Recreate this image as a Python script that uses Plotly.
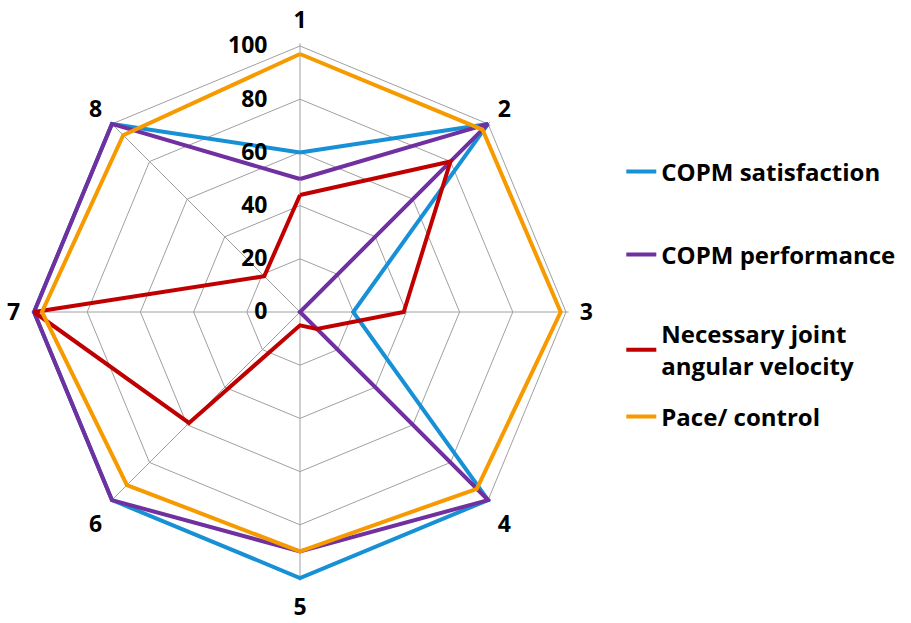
import plotly.graph_objects as go

# Eight assessed items around the radar
categories = ["1", "2", "3", "4", "5", "6", "7", "8"]

# Scores (0-100) per item
copm_satisfaction = [60, 100, 20, 100, 100, 100, 100, 100]
copm_performance = [50, 100, 0, 100, 90, 100, 100, 100]
joint_velocity = [44, 80, 39, 9, 5, 59, 100, 19]
pace_control = [97, 97, 98, 94, 90, 92, 97, 94]

radial_ticks = [0, 20, 40, 60, 80, 100]
r_max = 101  # small headroom so lines on the 100 ring are not clipped

series = [
    ("COPM satisfaction", copm_satisfaction, "#1790d6"),
    ("COPM performance", copm_performance, "#7030a0"),
    ("Necessary joint<br>angular velocity", joint_velocity, "#c00000"),
    ("Pace/ control", pace_control, "#f79a00"),
]

FONT = "Open Sans"
W, H = 911, 623
cx, cy, R100 = 300, 312, 266
R = R100 * r_max / 100

# one legend box per entry so the vertical spacing can be set freely
legend_names = ["legend", "legend2", "legend3", "legend4"]
legend_centers = [172, 255, 350, 417]

fig = go.Figure()
for i, (name, vals, color) in enumerate(series):
    fig.add_trace(go.Scatterpolar(
        r=vals + vals[:1],
        theta=categories + categories[:1],
        mode="lines",
        name=name,
        legend=legend_names[i],
        line=dict(color=color, width=4),
    ))

legend_style = dict(
    x=0.682,
    xanchor="left",
    yanchor="middle",
    font=dict(size=24, family=FONT, weight="bold", color="black"),
    bgcolor="rgba(0,0,0,0)",
)

layout_legends = {
    ln: dict(legend_style, y=1 - yc / H)
    for ln, yc in zip(legend_names, legend_centers)
}

fig.update_layout(
    width=W,
    height=H,
    margin=dict(l=0, r=0, t=0, b=0),
    paper_bgcolor="white",
    plot_bgcolor="white",
    font=dict(family=FONT, color="black"),
    polar=dict(
        domain=dict(x=[(cx - R) / W, (cx + R) / W],
                    y=[(H - cy - R) / H, (H - cy + R) / H]),
        bgcolor="white",
        gridshape="linear",
        radialaxis=dict(
            range=[0, r_max],
            tickvals=radial_ticks,
            ticktext=[str(v) for v in radial_ticks],
            angle=90,
            tickangle=90,
            side="counterclockwise",
            showline=False,
            ticks="outside",
            ticklen=24,
            tickcolor="rgba(0,0,0,0)",
            gridcolor="#a0a0a0",
            gridwidth=1,
            tickfont=dict(size=23, family=FONT, weight="bold", color="black"),
        ),
        angularaxis=dict(
            direction="clockwise",
            rotation=90,
            showline=False,
            gridcolor="#a0a0a0",
            gridwidth=1,
            ticks="outside",
            ticklen=6,
            tickcolor="rgba(0,0,0,0)",
            tickfont=dict(size=23, family=FONT, weight="bold", color="black"),
        ),
    ),
    showlegend=True,
    **layout_legends,
)

fig.write_html("out.html")
